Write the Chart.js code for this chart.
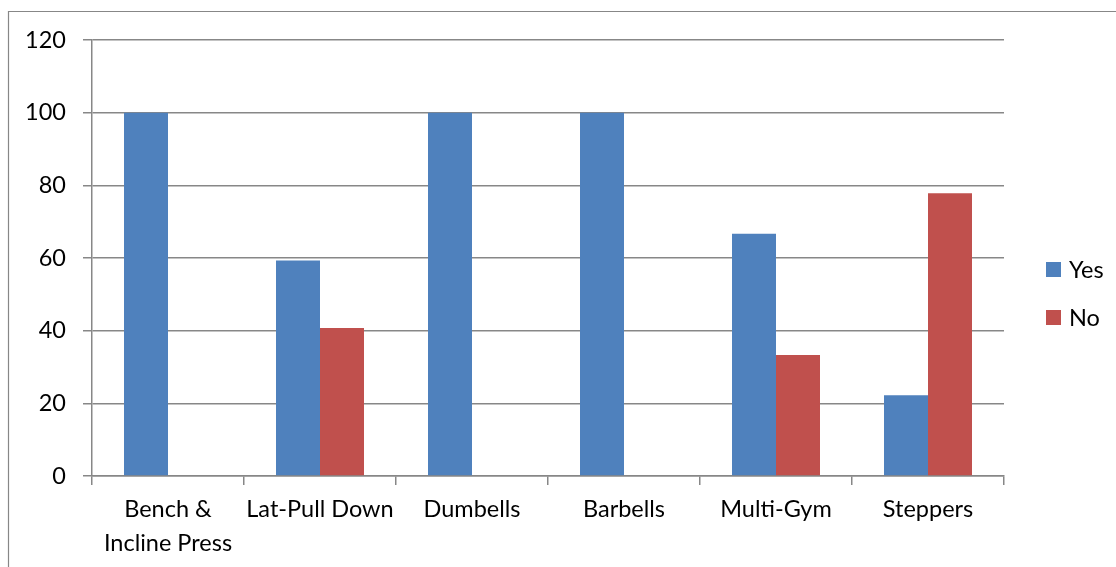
<!DOCTYPE html>
<html>
<head>
<meta charset="utf-8">
<script src="https://cdn.jsdelivr.net/npm/chart.js@4.4.1/dist/chart.umd.min.js"></script>
<style>
  html, body { margin: 0; padding: 0; background: #ffffff; }
  #wrap { width: 1116px; height: 567px; position: relative; }
</style>
</head>
<body>
<div id="wrap"><canvas id="c" width="1116" height="567"></canvas></div>
<script>
const categories = [['Bench &', 'Incline Press'], 'Lat-Pull Down', 'Dumbells', 'Barbells', 'Multi-Gym', 'Steppers'];
const yesValues = [100, 59.3, 100, 100, 66.7, 22.2];
const noValues = [0, 40.7, 0, 0, 33.3, 77.8];
const seriesNames = ['Yes', 'No'];
const yTicks = [0, 20, 40, 60, 80, 100, 120];

const FONT = 'Lato, "Noto Sans", sans-serif';
const FS = 23.5;
const GRID = '#878787';

const frame = {
  id: 'frame',
  beforeDraw(chart) {
    const ctx = chart.ctx;
    ctx.save();
    ctx.fillStyle = '#ffffff';
    ctx.fillRect(0, 0, chart.width, chart.height);
    ctx.strokeStyle = GRID;
    ctx.lineWidth = 1.2;
    ctx.beginPath();
    ctx.moveTo(8.5, chart.height + 5);
    ctx.lineTo(8.5, 11.5);
    ctx.lineTo(chart.width + 5, 11.5);
    ctx.stroke();
    ctx.restore();
  }
};

const sideLegend = {
  id: 'sideLegend',
  afterDraw(chart) {
    const ctx = chart.ctx;
    ctx.save();
    ctx.font = FS + 'px ' + FONT;
    ctx.textBaseline = 'middle';
    ctx.textAlign = 'left';
    chart.data.datasets.forEach((ds, i) => {
      const top = 262 + i * 48;
      ctx.fillStyle = ds.backgroundColor;
      ctx.fillRect(1046, top, 15, 15);
      ctx.fillStyle = '#000000';
      ctx.fillText(ds.label, 1069, top + 8);
    });
    ctx.restore();
  }
};

new Chart(document.getElementById('c'), {
  type: 'bar',
  data: {
    labels: categories,
    datasets: [
      { label: seriesNames[0], data: yesValues, backgroundColor: '#4F81BD', borderWidth: 0 },
      { label: seriesNames[1], data: noValues, backgroundColor: '#C0504D', borderWidth: 0 }
    ]
  },
  options: {
    responsive: false,
    animation: false,
    devicePixelRatio: 1,
    categoryPercentage: 88 / 152,
    barPercentage: 1,
    layout: { padding: { left: 0, right: 112, top: 40, bottom: 0 } },
    plugins: {
      legend: { display: false },
      tooltip: { enabled: false }
    },
    scales: {
      x: {
        offset: true,
        grid: {
          display: true,
          offset: true,
          drawOnChartArea: false,
          drawTicks: true,
          tickLength: 9,
          color: GRID,
          lineWidth: 1.5
        },
        border: { display: true, color: GRID, width: 1.5 },
        ticks: {
          color: '#000000',
          font: { family: FONT, size: FS, lineHeight: 1.42 },
          padding: 8,
          maxRotation: 0,
          autoSkip: false
        },
        afterFit(scale) { scale.height = 91; }
      },
      y: {
        min: 0,
        max: 120,
        afterBuildTicks(scale) { scale.ticks = yTicks.map(v => ({ value: v })); },
        grid: {
          color: GRID,
          lineWidth: 1.5,
          drawTicks: true,
          tickLength: 9
        },
        border: { display: true, color: GRID, width: 1.5 },
        ticks: {
          color: '#000000',
          font: { family: FONT, size: FS },
          padding: 17
        },
        afterFit(scale) { scale.width = 92; }
      }
    }
  },
  plugins: [frame, sideLegend]
});
</script>
</body>
</html>
